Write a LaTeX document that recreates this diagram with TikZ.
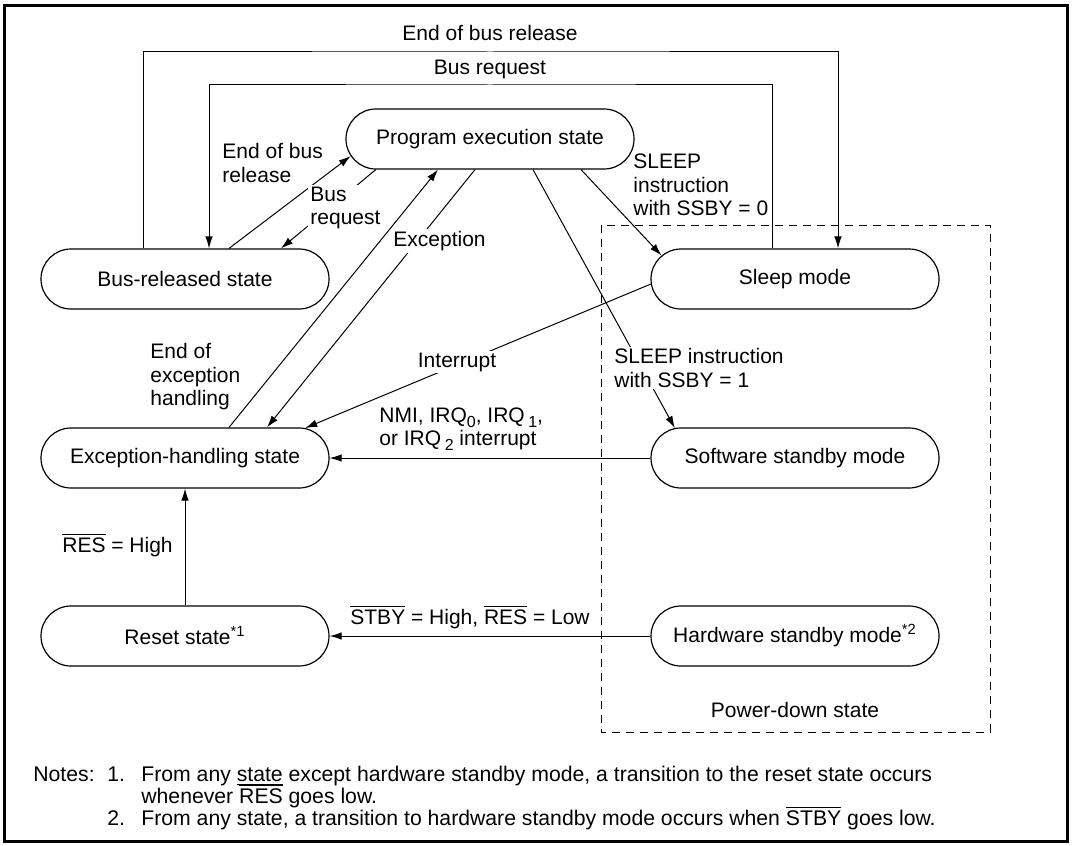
\documentclass[tikz,border=0pt]{standalone}
\usepackage{fontspec}
\setmainfont{Liberation Sans}
\usetikzlibrary{shapes.misc,arrows.meta,calc}
\newcommand{\ovl}[1]{$\overline{\hbox{#1}}$}
\newcommand{\lowsub}[1]{\raisebox{-0.45ex}{\fontsize{8}{8}\selectfont #1}}
\begin{document}
\begin{tikzpicture}[x=0.5pt,y=-0.5pt,
  state/.style={rounded rectangle, draw, line width=0.6pt, minimum width=144pt, minimum height=30pt, inner sep=0pt, font=\fontsize{10.5}{11.75}\selectfont},
  arr/.style={-{Latex[length=6pt,width=3.8pt]}, line width=0.5pt},
  lbl/.style={font=\fontsize{10.5}{11.75}\selectfont, inner sep=1pt, align=left},
  wl/.style={lbl, fill=white},
  note/.style={font=\fontsize{10.6}{11.75}\selectfont, inner sep=0pt, anchor=base west},
]
\useasboundingbox (0,0) rectangle (1074,845);
\draw[line width=1.5pt] (4,6) rectangle (1067,841);
% power-down region
\draw[line width=0.5pt, dash pattern=on 4pt off 3pt] (601,225) rectangle (990,732);
\node[lbl] (pd) at (795,710) {Power-down state};
% states
\node[state] (prog) at (490,139) {Program execution state};
\node[state] (bus) at (185,279) {Bus-released state};
\node[state] (sleep) at (795,279) {Sleep mode};
\node[state] (exc) at (185,458) {Exception-handling state};
\node[state] (sw) at (795,458) {Software standby mode};
\node[state] (reset) at (185,636) {Reset state\textsuperscript{*1}};
\node[state] (hw) at (795,636) {Hardware standby mode\textsuperscript{*2}};
% outer loops
\coordinate (t1) at (490,52);
\coordinate (t2) at (490,85);
\draw[arr] ($(bus.north)+(-42,0)$) |- (t1) -| ($(sleep.north)+(43,0)$);
\draw[arr] ($(sleep.north)+(-23,0)$) |- (t2) -| ($(bus.north)+(24,0)$);
\node[lbl] (l1) at (490,33) {End of bus release};
\node[lbl] (l2) at (490,69) {Bus request};
% transitions
\draw[arr] ($(bus.north)+(44,0)$) -- (prog.187);
\draw[arr] (prog.195) -- ($(bus.north)+(96,0)$);
\draw[arr] ($(exc.north)+(44,0)$) -- ($(prog.south)+(-52,0)$);
\draw[arr] ($(prog.south)+(-15,0)$) -- ($(exc.north)+(82,0)$);
\draw[arr] ($(prog.south)+(91,0)$) -- (sleep.170);
\draw[arr] ($(prog.south)+(43,0)$) -- (sw.166);
\draw[arr] (sleep.182) -- (exc.14);
\draw[arr] (sw.west) -- (exc.east);
\draw[arr] (reset.north) -- (exc.south);
\draw[arr] (hw.west) -- (reset.east);
% labels
\node[lbl, anchor=west] (l3) at (220,163) {End of bus\\release};
\node[wl, anchor=west] (l4) at (308,208) {Bus\\request};
\node[wl, anchor=west] (l5) at (391,241) {Exception};
\node[lbl, anchor=west] (l6) at (631,185) {SLEEP\\instruction\\with SSBY = 0};
\node[lbl, anchor=west] (l7) at (148,377) {End of\\exception\\handling};
\node[wl] (l8) at (457,362) {Interrupt};
\node[wl, anchor=west] (l9) at (612,368) {SLEEP instruction\\with SSBY = 1};
\node[lbl, anchor=west] (l10) at (377,429) {NMI, IRQ\lowsub{0}, IRQ\,\lowsub{1},\\or IRQ\,\lowsub{2} interrupt};
\node[lbl, anchor=west] (l11) at (60,545) {\ovl{RES} = High};
\node[lbl, anchor=west] (l12) at (348,617) {\ovl{STBY} = High, \ovl{RES} = Low};
% notes
\node[note] (n0) at (33,781) {Notes:};
\node[note] (n1) at (107,781) {1.};
\node[note] (n1t) at (141,781) {From any \underline{state} except hardware standby mode, a transition to the reset state occurs};
\node[note] (n1b) at (141,803) {whenever \ovl{RES} goes low.};
\node[note] (n2) at (107,825) {2.};
\node[note] (n2t) at (141,825) {From any state, a transition to hardware standby mode occurs when \ovl{STBY} goes low.};
\end{tikzpicture}
\end{document}
